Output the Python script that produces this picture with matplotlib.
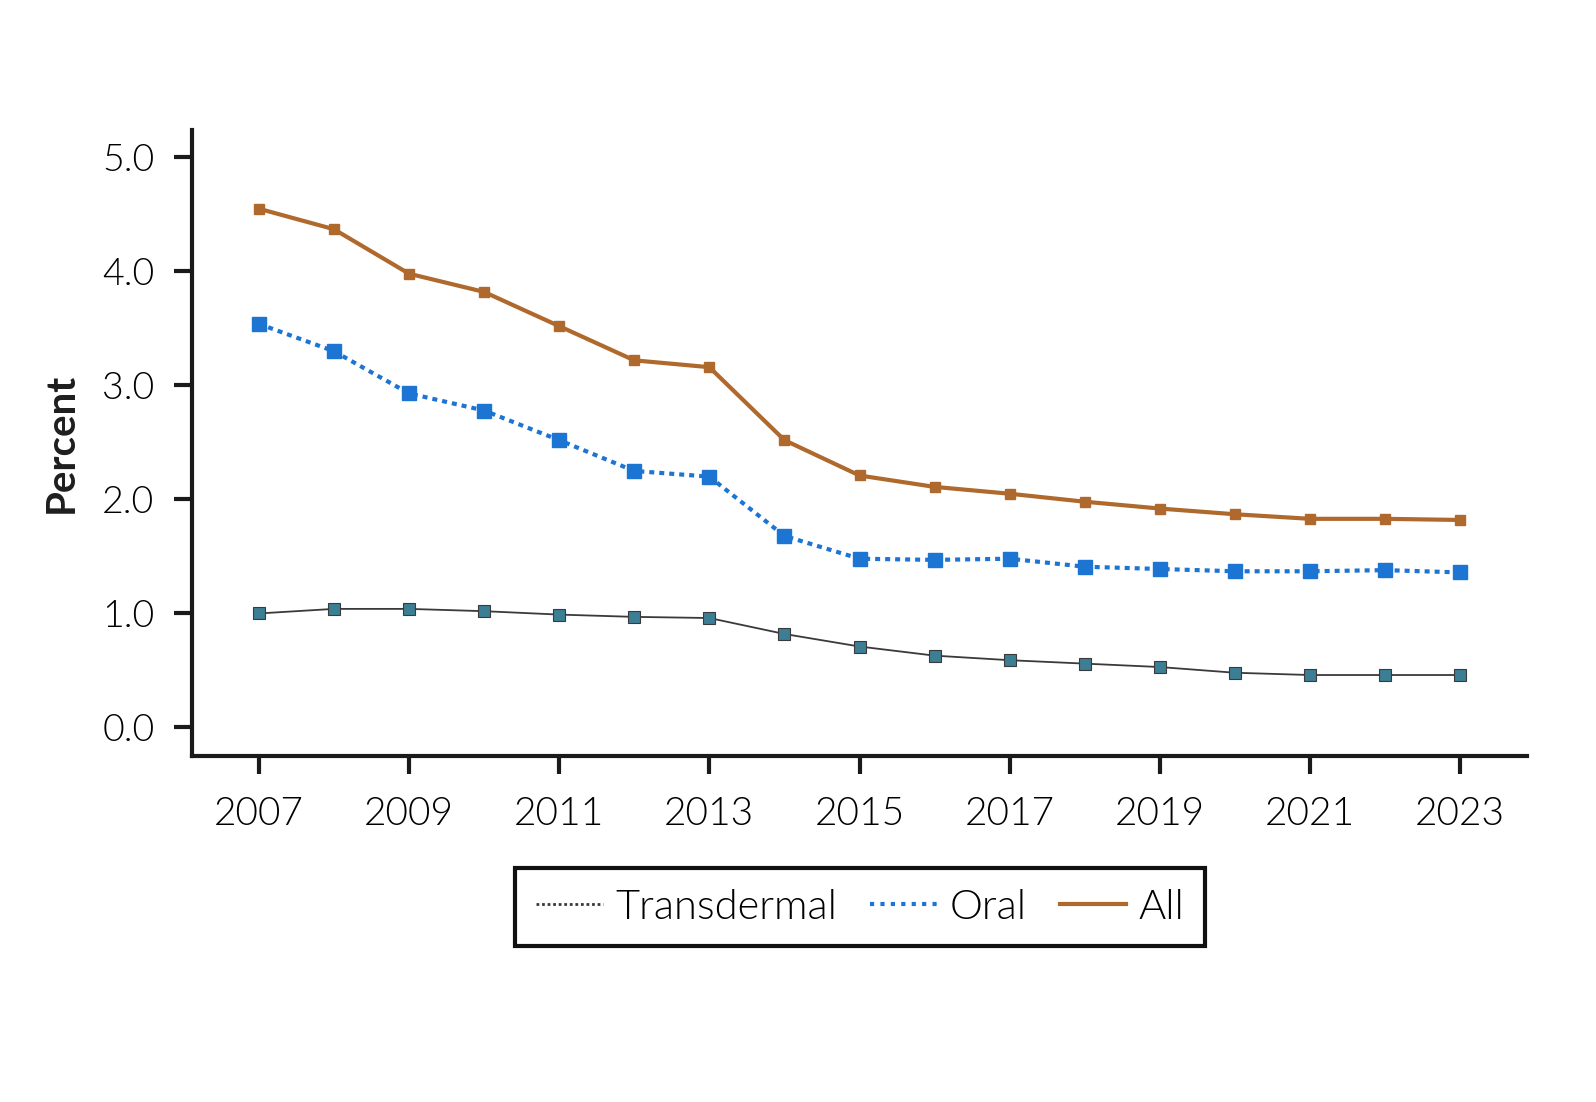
import matplotlib
matplotlib.use("Agg")
import matplotlib.pyplot as plt
from matplotlib.lines import Line2D

years = list(range(2007, 2024))
all_vals = [4.55, 4.37, 3.98, 3.82, 3.52, 3.22, 3.16, 2.52, 2.21, 2.11, 2.05, 1.98, 1.92, 1.87, 1.83, 1.83, 1.82]
oral_vals = [3.54, 3.30, 2.93, 2.78, 2.52, 2.25, 2.20, 1.68, 1.48, 1.47, 1.48, 1.41, 1.39, 1.37, 1.37, 1.38, 1.36]
trans_vals = [1.00, 1.04, 1.04, 1.02, 0.99, 0.97, 0.96, 0.82, 0.71, 0.63, 0.59, 0.56, 0.53, 0.48, 0.46, 0.46, 0.46]
series_labels = ["Transdermal", "Oral", "All"]
yticks = [0.0, 1.0, 2.0, 3.0, 4.0, 5.0]
xticks = list(range(2007, 2024, 2))

c_all = "#B0692C"
c_oral = "#1C74D3"
c_trans_line = "#3a3a3a"
c_trans_mk = "#3C7E93"
c_text = "#000000"

plt.rcParams['font.family'] = ['Lato', 'DejaVu Sans']

fig = plt.figure(figsize=(15.96, 11.02), dpi=100)
ax = fig.add_axes([0.1203, 0.314, 0.9568 - 0.1203, 0.882 - 0.314])

ax.plot(years, trans_vals, color=c_trans_line, lw=1.3, marker='s', ms=8,
        mfc=c_trans_mk, mec=c_trans_line, mew=0.8, zorder=3)
ax.plot(years, oral_vals, color=c_oral, lw=3, ls=(0, (1.2, 1.2)), marker='s', ms=10,
        mfc=c_oral, mec=c_oral, zorder=4)
ax.plot(years, all_vals, color=c_all, lw=3, marker='s', ms=7,
        mfc=c_all, mec=c_all, zorder=5)

ax.set_xlim(2006.11, 2023.89)
ax.set_ylim(-0.25, 5.24)
ax.set_yticks(yticks)
ax.set_yticklabels([f"{v:.1f}" for v in yticks], fontsize=27, color=c_text, fontweight=300)
ax.set_xticks(xticks)
ax.set_xticklabels([str(x) for x in xticks], fontsize=28, color=c_text, fontweight=300)
ax.tick_params(axis='both', length=13, width=3, color='#1a1a1a')
ax.tick_params(axis='x', pad=16)
ax.tick_params(axis='y', pad=14)

for s in ['top', 'right']:
    ax.spines[s].set_visible(False)
for s in ['left', 'bottom']:
    ax.spines[s].set_linewidth(3)
    ax.spines[s].set_color('#1a1a1a')

ax.set_ylabel("Percent", fontsize=29, fontweight='bold', color='#1e1e1e', labelpad=16)

handles = [
    Line2D([], [], color=c_trans_line, lw=2, ls=(0, (1, 1))),
    Line2D([], [], color=c_oral, lw=3, ls=(0, (1, 1.5))),
    Line2D([], [], color=c_all, lw=3),
]
leg = fig.legend(handles, series_labels, loc='upper center', bbox_to_anchor=(0.539, 0.2125),
                 ncol=3, frameon=True, fancybox=False, edgecolor='#111111', framealpha=1,
                 handlelength=1.6, columnspacing=0.8, handletextpad=0.3, borderpad=0.5,
                 borderaxespad=0, prop={'size': 30, 'weight': 300})
for t in leg.get_texts():
    t.set_color(c_text)
leg.get_frame().set_linewidth(3)

fig.savefig("out.png", dpi=100, facecolor='white')
